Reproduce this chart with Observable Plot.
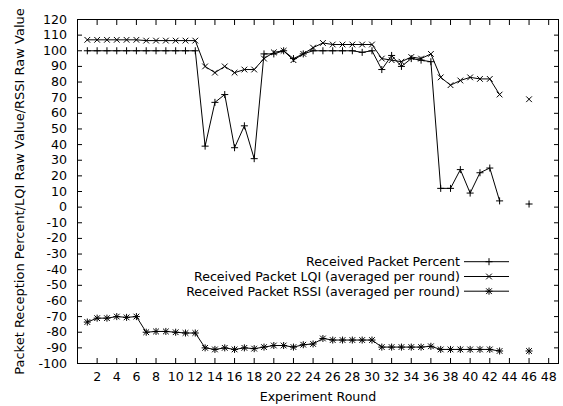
<!DOCTYPE html>
<html><head><meta charset="utf-8">
<script src="https://cdn.jsdelivr.net/npm/d3@7"></script>
<script src="https://cdn.jsdelivr.net/npm/@observablehq/plot@0.6"></script>
<style>
body{margin:0;background:#fff;}
#wrap{position:relative;width:563px;height:406px;}
#wrap svg{display:block;}
#legend{position:absolute;left:0;top:0;pointer-events:none;}
</style></head><body><div id="wrap"></div>
<script>
const rounds = [1,2,3,4,5,6,7,8,9,10,11,12,13,14,15,16,17,18,19,20,21,22,23,24,25,26,27,28,29,30,31,32,33,34,35,36,37,38,39,40,41,42,43,44,45,46];
const percent = [100,100,100,100,100,100,100,100,100,100,100,100,
  39,67,72,38,52,31, 98,98,100,95,98,100, 100,100,100,100,99,100,
  88,97,90,95,94,93, 12,12,24,9,22,25,4, null,null,2];
const lqi = [107,107,107,107,107,107,106.5,106.5,106.5,106.5,106.5,106.5,
  90,86,90,86,88,88, 95,99,100,94,98,102, 105,104,104,104,104,104,
  95,94,93,96,95,98, 83,78,81,83,82,82,72, null,null,69];
const rssi = [-73.5,-71,-71,-70,-70.5,-70,-80,-79.5,-79.5,-80,-80.5,-80.5,
  -90,-91,-90,-91,-90,-90.5,-89.5,-88.5,-88.5,-89.5,-88,-87.5,
  -84,-85,-85,-85,-85,-85, -89.5,-89.5,-89.5,-89.5,-89.5,-89,
  -91,-91,-91,-91,-91,-91,-92, null,null,-92];
const xTicks = [2,4,6,8,10,12,14,16,18,20,22,24,26,28,30,32,34,36,38,40,42,44,46,48];
const yTicks = [-100,-90,-80,-70,-60,-50,-40,-30,-20,-10,0,10,20,30,40,50,60,70,80,90,100,110,120];
const seriesNames = ["Received Packet Percent","Received Packet LQI (averaged per round)","Received Packet RSSI (averaged per round)"];
const xLabel = "Experiment Round";
const yLabel = "Packet Reception Percent/LQI Raw Value/RSSI Raw Value";

const data = rounds.map((r,i)=>({round:r, percent:percent[i], lqi:lqi[i], rssi:rssi[i]}));
const FONT = "DejaVu Sans";
const FS = "12.6px";
const rPlus = 2.4, rTimes = 2.7;
const fmt = d => String(d);

const chart = Plot.plot({
  width:563, height:406,
  marginLeft:77, marginRight:5, marginTop:19, marginBottom:43,
  style:{fontFamily:FONT, fontSize:FS, color:"black", background:"white", overflow:"visible"},
  x:{domain:[0,49]},
  y:{domain:[-100,120]},
  marks:[
    Plot.axisX({anchor:"bottom", ticks:xTicks, tickFormat:fmt, tickSize:5, dy:-5, tickPadding:9, label:null, fontVariant:"normal"}),
    Plot.axisX({anchor:"top", ticks:xTicks, tickSize:5, dy:5, tickFormat:()=>"", label:null}),
    Plot.axisY({anchor:"left", ticks:yTicks, tickFormat:fmt, tickSize:5, dx:5, tickPadding:10.5, label:null, fontVariant:"normal"}),
    Plot.axisY({anchor:"right", ticks:yTicks, tickSize:5, dx:-5, tickFormat:()=>"", label:null}),
    Plot.frame({stroke:"black"}),
    Plot.lineY(data, {x:"round", y:"percent", stroke:"black", strokeWidth:1}),
    Plot.lineY(data, {x:"round", y:"lqi", stroke:"black", strokeWidth:1}),
    Plot.lineY(data, {x:"round", y:"rssi", stroke:"black", strokeWidth:1}),
    Plot.dot(data, {x:"round", y:"percent", symbol:"plus", r:rPlus, stroke:"black", fill:"none", strokeWidth:1}),
    Plot.dot(data, {x:"round", y:"lqi", symbol:"times", r:rTimes, stroke:"black", fill:"none", strokeWidth:1}),
    Plot.dot(data, {x:"round", y:"rssi", symbol:"plus", r:rPlus, stroke:"black", fill:"none", strokeWidth:1}),
    Plot.dot(data, {x:"round", y:"rssi", symbol:"times", r:rTimes, stroke:"black", fill:"none", strokeWidth:1}),
    Plot.text([xLabel], {frameAnchor:"bottom", textAnchor:"middle", lineAnchor:"middle", dy:33, fill:"black"}),
    Plot.text([yLabel], {frameAnchor:"left", textAnchor:"middle", lineAnchor:"middle", rotate:-90, dx:-58, fill:"black", fontSize:13})
  ]
});
const wrap = document.getElementById("wrap");
wrap.appendChild(chart);

// legend overlay (inside plot area, gnuplot style)
const leg = d3.select(wrap).append("svg").attr("id","legend")
  .attr("width",563).attr("height",406)
  .style("font-family",FONT).style("font-size",FS);
const rowsY = [261.7, 276.5, 291.2];
const symSets = [[d3.symbolPlus],[d3.symbolTimes],[d3.symbolPlus,d3.symbolTimes]];
const symR = new Map([[d3.symbolPlus,rPlus],[d3.symbolTimes,rTimes]]);
seriesNames.forEach((name,i)=>{
  const y = rowsY[i];
  leg.append("text").attr("x",460).attr("y",y).attr("dy","0.35em")
    .attr("text-anchor","end").attr("fill","black").text(name);
  leg.append("line").attr("x1",464).attr("x2",509).attr("y1",y).attr("y2",y)
    .attr("stroke","black").attr("stroke-width",1);
  symSets[i].forEach(s=>{
    const r = symR.get(s);
    leg.append("path").attr("d", d3.symbol(s, r*r*Math.PI)())
      .attr("transform",`translate(489,${y})`).attr("stroke","black").attr("fill","none");
  });
});
</script>
</body></html>
